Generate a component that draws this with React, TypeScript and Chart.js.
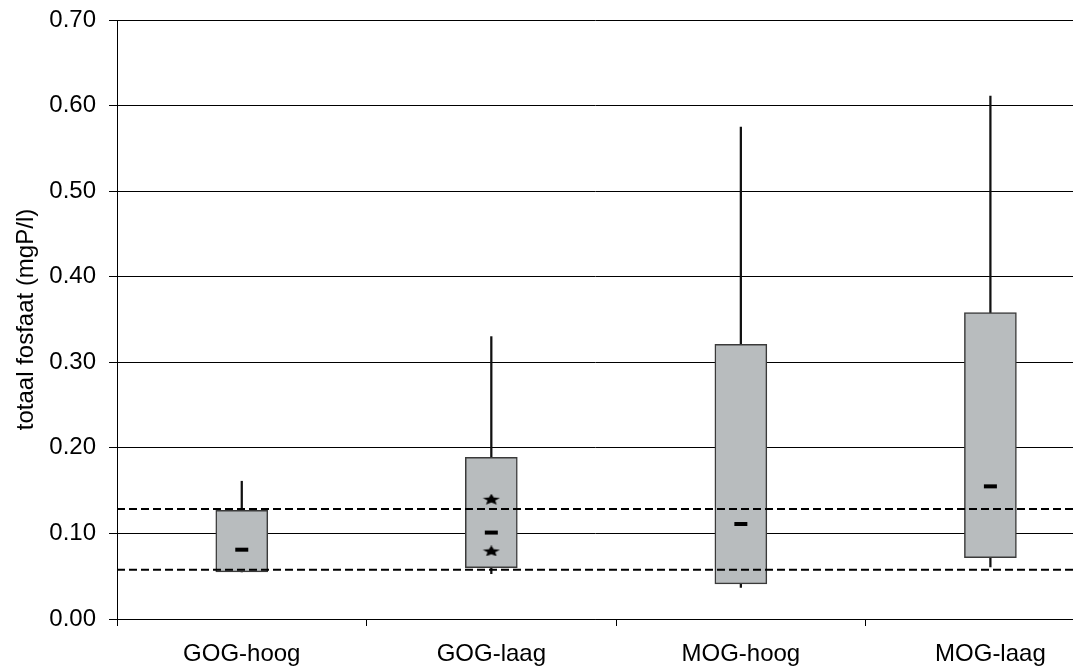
import React, { useEffect, useRef } from "react";
import { Chart, registerables } from "chart.js";

Chart.register(...registerables);

const categories = ["GOG-hoog", "GOG-laag", "MOG-hoog", "MOG-laag"];
const whiskerMin = [0.055, 0.053, 0.037, 0.061];
const q1 = [0.055, 0.06, 0.041, 0.0717];
const medians = [0.081, 0.101, 0.111, 0.155];
const q3 = [0.127, 0.189, 0.321, 0.358];
const whiskerMax = [0.161, 0.33, 0.575, 0.611];
const starCategory = [1, 1];
const starValues = [0.14, 0.0795];
const refLines = [0.1285, 0.0576];
const yTicks = [0, 0.1, 0.2, 0.3, 0.4, 0.5, 0.6, 0.7];
const yTitle = "totaal fosfaat (mgP/l)";

const FONT = "'Liberation Sans', Arial, sans-serif";
const X_MIN = -0.5;
const X_MAX = 3.331;

function makeStar(): HTMLCanvasElement {
  const c = document.createElement("canvas");
  c.width = 18;
  c.height = 11;
  const ctx = c.getContext("2d")!;
  ctx.fillStyle = "#000";
  ctx.beginPath();
  for (let i = 0; i < 10; i++) {
    const r = i % 2 === 0 ? 1 : 0.45;
    const a = -Math.PI / 2 + (i * Math.PI) / 5;
    const px = 9 + r * 9 * Math.cos(a);
    const py = 6 + r * 6 * Math.sin(a);
    if (i === 0) ctx.moveTo(px, py);
    else ctx.lineTo(px, py);
  }
  ctx.closePath();
  ctx.fill();
  return c;
}

export default function App() {
  const ref = useRef<HTMLCanvasElement | null>(null);

  useEffect(() => {
    if (!ref.current) return;
    const star = makeStar();
    const idx = categories.map((_, i) => i);
    const chart = new Chart(ref.current, {
      type: "bar",
      data: {
        datasets: [
          {
            type: "bar",
            label: "whisker",
            data: idx.map((i) => ({ x: i, y: [whiskerMin[i], whiskerMax[i]] })) as any,
            backgroundColor: "#111",
            borderWidth: 0,
            barThickness: 1.6,
            grouped: false,
            order: 5,
          } as any,
          {
            type: "bar",
            label: "box",
            data: idx.map((i) => ({ x: i, y: [q1[i], q3[i]] })) as any,
            backgroundColor: "#B8BCBE",
            borderColor: "#3a3a3a",
            borderWidth: 1.5,
            borderSkipped: false,
            barThickness: 52,
            grouped: false,
            order: 4,
          } as any,
          {
            type: "scatter",
            label: "median",
            data: idx.map((i) => ({ x: i, y: medians[i] })),
            pointStyle: "line",
            pointRadius: 6.5,
            pointBorderWidth: 4,
            pointBorderColor: "#000",
            pointBackgroundColor: "#000",
            order: 3,
          } as any,
          {
            type: "scatter",
            label: "outliers",
            data: starValues.map((v, i) => ({ x: starCategory[i], y: v })),
            pointStyle: star,
            pointRadius: 9,
            order: 1,
          } as any,
          ...refLines.map(
            (v) =>
              ({
                type: "line",
                label: "ref",
                data: [
                  { x: X_MIN, y: v },
                  { x: X_MAX, y: v },
                ],
                borderColor: "#000",
                borderWidth: 2,
                borderDash: [8, 4],
                pointRadius: 0,
                fill: false,
                order: 2,
              } as any)
          ),
        ],
      },
      options: {
        responsive: false,
        animation: false,
        layout: { autoPadding: false, padding: { top: 20, left: 0, right: 0, bottom: 0 } },
        plugins: {
          legend: { display: false },
          tooltip: { enabled: false },
        },
        scales: {
          x: {
            type: "linear",
            offset: false,
            min: X_MIN,
            max: X_MAX,
            afterBuildTicks: (scale: any) => {
              const t: { value: number }[] = [];
              for (let v = -0.5; v <= 3.0001; v += 0.5) t.push({ value: v });
              scale.ticks = t;
            },
            afterFit: (scale: any) => {
              scale.height = 49;
              scale.paddingLeft = 0;
              scale.paddingRight = 0;
            },
            ticks: {
              autoSkip: false,
              maxRotation: 0,
              minRotation: 0,
              padding: 14,
              color: "#000",
              font: { family: FONT, size: 24 },
              callback: (value: any) =>
                Number.isInteger(value) ? categories[value] : "",
            },
            grid: {
              offset: false,
              drawOnChartArea: false,
              drawTicks: true,
              tickLength: 7,
              lineWidth: 1,
              color: (ctx: any) =>
                ctx.tick && Number.isInteger(ctx.tick.value) ? "rgba(0,0,0,0)" : "#000",
            },
            border: { display: true, color: "#000", width: 1 },
          },
          y: {
            type: "linear",
            min: 0,
            max: 0.7,
            afterBuildTicks: (scale: any) => {
              scale.ticks = yTicks.map((v) => ({ value: v }));
            },
            afterFit: (scale: any) => {
              scale.width = 117;
              scale.paddingTop = 0;
              scale.paddingBottom = 0;
            },
            ticks: {
              padding: 13,
              color: "#000",
              font: { family: FONT, size: 24 },
              callback: (value: any) => Number(value).toFixed(2),
            },
            grid: {
              color: "#000",
              lineWidth: 1,
              tickLength: 8,
            },
            border: { display: true, color: "#000", width: 1 },
            title: {
              display: true,
              text: yTitle,
              color: "#000",
              font: { family: FONT, size: 24 },
              padding: { top: 12, bottom: 0 },
            },
          },
        },
      },
    });
    return () => chart.destroy();
  }, []);

  return (
    <canvas
      ref={ref}
      width={1073}
      height={668}
      style={{ position: "absolute", left: 0, top: 0, display: "block" }}
    />
  );
}
